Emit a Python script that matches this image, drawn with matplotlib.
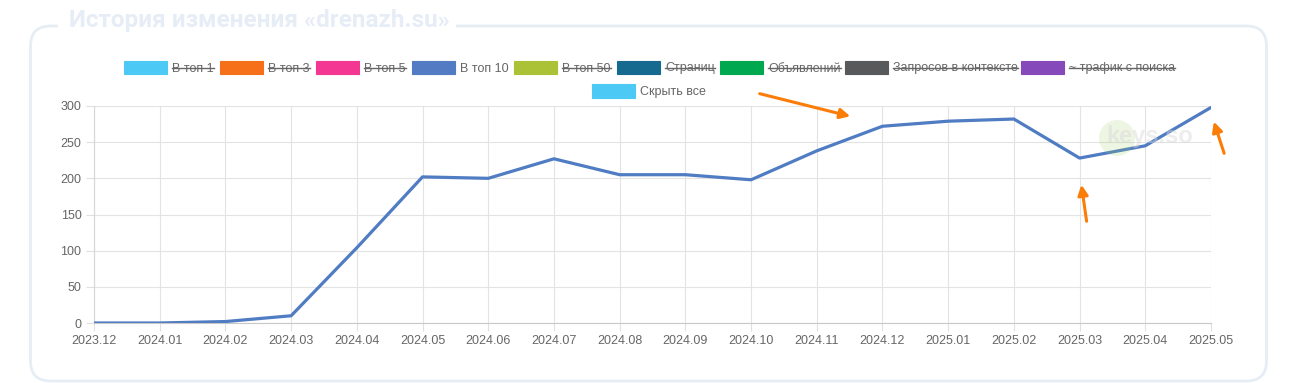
import matplotlib
matplotlib.use('Agg')
import matplotlib.pyplot as plt
from matplotlib.patches import FancyBboxPatch, Rectangle, Circle, FancyArrowPatch

# data
months = ['2023.12', '2024.01', '2024.02', '2024.03', '2024.04', '2024.05', '2024.06',
          '2024.07', '2024.08', '2024.09', '2024.10', '2024.11', '2024.12', '2025.01',
          '2025.02', '2025.03', '2025.04', '2025.05']
top10 = [0, 0, 2, 10, 104, 202, 200, 227, 205, 205, 198, 238, 272, 279, 282, 228, 245, 298]

legend_labels = ['В топ 1', 'В топ 3', 'В топ 5', 'В топ 10', 'В топ 50', 'Страниц',
                 'Объявлений', 'Запросов в контексте', '~ трафик с поиска']
legend_colors = ['#4dc9f6', '#f67019', '#f53794', '#537bc4', '#acc236', '#166a8f',
                 '#00a950', '#58595b', '#8549ba']
legend_hidden = [True, True, True, False, True, True, True, True, True]

W, H = 1297, 383
plt.rcParams['font.family'] = ['Liberation Sans', 'DejaVu Sans']

fig = plt.figure(figsize=(W / 100, H / 100), dpi=100)

# background overlay in pixel coordinates (frame, title)
bg = fig.add_axes([0, 0, 1, 1], zorder=0)
bg.set_xlim(0, W)
bg.set_ylim(H, 0)
bg.axis('off')
bg.add_patch(FancyBboxPatch((30.5, 26), 1236, 355, boxstyle='round,pad=0,rounding_size=20',
                            fill=False, edgecolor='#e7edf5', linewidth=2))
bg.add_patch(Rectangle((58, 10), 398, 24, facecolor='white', edgecolor='none'))
bg.text(69, 21, 'История изменения «drenazh.su»', fontsize=17.5, fontweight='bold',
        family=['Roboto', 'DejaVu Sans'], color='#e6edf6', va='center', ha='left')

# main chart
ax = fig.add_axes([94 / W, 1 - 323 / H, (1211 - 94) / W, (323 - 106) / H], zorder=1)
x = list(range(len(months)))
ax.plot(x, top10, color='#4f7cc2', linewidth=2.3, zorder=3)
ax.set_xlim(0, len(months) - 1)
ax.set_ylim(0, 300)
ax.set_yticks(range(0, 301, 50))
ax.set_xticks(x)
ax.set_xticklabels(months)
ax.grid(True, color='#e3e3e3', linewidth=0.8)
ax.set_axisbelow(True)
for s in ['top', 'right']:
    ax.spines[s].set_visible(False)
ax.spines['left'].set_color('#d6d6d6')
ax.spines['bottom'].set_color('#c8c8c8')
ax.tick_params(axis='both', colors='#e0e0e0', labelcolor='#666666', labelsize=9, length=6)
ax.tick_params(axis='x', pad=3)
ax.tick_params(axis='y', pad=3)

# foreground overlay (watermark, legend, arrows)
fg = fig.add_axes([0, 0, 1, 1], zorder=5)
fg.set_xlim(0, W)
fg.set_ylim(H, 0)
fg.axis('off')
fg.patch.set_alpha(0)

fg.add_patch(Circle((1117, 138), 18, facecolor='#9ccc65', edgecolor='none', alpha=0.18))
fg.text(1106, 137, 'keys.so', fontsize=17, fontweight='bold', color='#d8d8d8',
        va='center', ha='left', alpha=0.45)

box_x = [124, 220, 316, 412, 514, 617, 720, 845, 1021]
texts = []
for bx, lab, col, hid in zip(box_x, legend_labels, legend_colors, legend_hidden):
    fg.add_patch(Rectangle((bx, 61), 43, 13, facecolor=col, edgecolor=col, linewidth=0.8))
    t = fg.text(bx + 48, 71.5, lab, fontsize=9, color='#666666', va='baseline', ha='left')
    texts.append((t, hid))
fg.add_patch(Rectangle((592, 84), 43, 14, facecolor='#4dc9f6', edgecolor='#4dc9f6',
                       linewidth=0.8))
fg.text(640, 95.5, 'Скрыть все', fontsize=9, color='#666666', va='baseline', ha='left')

fig.canvas.draw()
r = fig.canvas.get_renderer()
inv = fg.transData.inverted()
for t, hid in texts:
    if hid:
        bb = t.get_window_extent(r)
        x0 = inv.transform((bb.x0, 0))[0]
        x1 = inv.transform((bb.x1, 0))[0]
        fg.plot([x0, x1], [67.5, 67.5], color='#666666', linewidth=1)

# orange arrows
for (x0, y0), (x1, y1) in [((757, 93), (853, 117)), ((1087, 224), (1081, 182)),
                           ((1225, 156), (1213, 119))]:
    fg.add_patch(FancyArrowPatch((x0, y0), (x1, y1),
                                 arrowstyle='-|>,head_length=6,head_width=3',
                                 color='#fb7d07', linewidth=2.2))

plt.savefig('out.png', dpi=100)
